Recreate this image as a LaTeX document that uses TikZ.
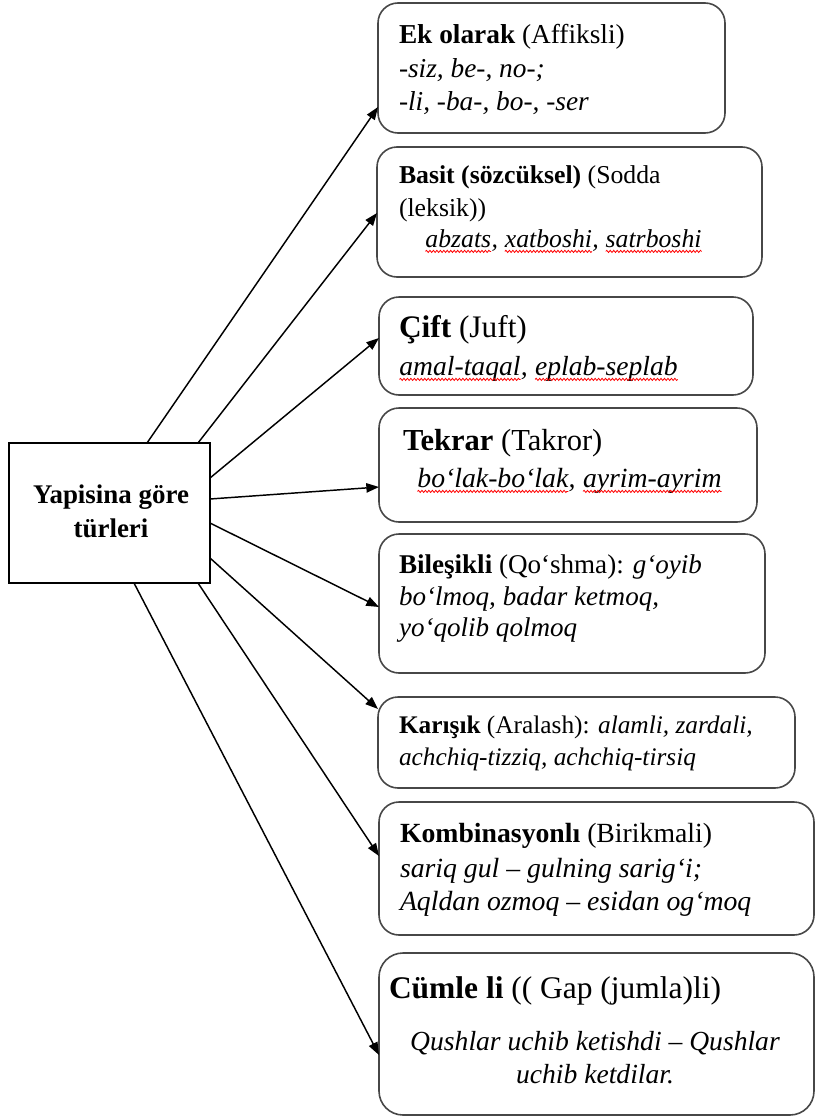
\documentclass[tikz,border=0pt]{standalone}
\usepackage{fontspec}
\setmainfont{Liberation Serif}
\usetikzlibrary{arrows.meta,decorations.pathmorphing,calc}
\newcommand\wv[1]{\tikz[baseline=(w.base)]{\node[inner sep=0pt,outer sep=0pt,anchor=base](w){#1};\draw[red,line width=0.6pt,decorate,decoration={snake,amplitude=0.8pt,segment length=2.6pt}]([yshift=-3.3pt]w.base west)--([yshift=-3.3pt]w.base east);}}
\newcommand\fs[1]{\fontsize{#1}{#1}\selectfont}
\begin{document}
\begin{tikzpicture}[x=0.75pt,y=-0.75pt,
  rbox/.style={draw=black!72,line width=1.2pt,rounded corners=15pt,inner sep=0pt,outer sep=0pt,anchor=north west},
  mainbox/.style={draw=black,line width=1.2pt,inner sep=0pt,outer sep=0pt,anchor=north west},
  txt/.style={anchor=base west,inner sep=0pt,outer sep=0pt},
  ctxt/.style={anchor=base,inner sep=0pt,outer sep=0pt},
  arr/.style={draw=black,line width=1.1pt,-{Triangle[length=9.5pt,width=7pt]}}]
\useasboundingbox (0,0) rectangle (816,1117);

% boxes
\node[mainbox,minimum width={201*0.75pt},minimum height={140*0.75pt}] (lb) at (9,443) {};
\node[rbox,minimum width={347*0.75pt},minimum height={130*0.75pt}] (b1) at (378,3) {};
\node[rbox,minimum width={385*0.75pt},minimum height={130*0.75pt}] (b2) at (377,147) {};
\node[rbox,minimum width={374*0.75pt},minimum height={98*0.75pt}] (b3) at (379,297) {};
\node[rbox,minimum width={378*0.75pt},minimum height={114*0.75pt}] (b4) at (379,408) {};
\node[rbox,minimum width={386*0.75pt},minimum height={139*0.75pt}] (b5) at (379,534) {};
\node[rbox,minimum width={417*0.75pt},minimum height={91*0.75pt}] (b6) at (378,697) {};
\node[rbox,minimum width={435*0.75pt},minimum height={133*0.75pt}] (b7) at (379,802) {};
\node[rbox,rounded corners=18pt,minimum width={435*0.75pt},minimum height={162*0.75pt}] (b8) at (379,953) {};

% left text
\node[ctxt,font=\fs{20.2}\bfseries] (l1) at (111,503) {Yapisina göre};
\node[ctxt,font=\fs{20.2}\bfseries] (l2) at (111,537) {türleri};

% box 1
\node[txt,font=\fs{20.5}] (t1a) at (399,43) {\textbf{Ek olarak} (Affiksli)};
\node[txt,font=\fs{20.5}\itshape] (t1b) at (399,77) {-siz, be-, no-;};
\node[txt,font=\fs{20.5}\itshape] (t1c) at (399,110) {-li, -ba-, bo-, -ser};

% box 2
\node[txt,font=\fs{19.3}] (t2a) at (399,183) {\textbf{Basit (sözcüksel)} (Sodda};
\node[txt,font=\fs{19.3}] (t2b) at (399,216) {(leksik))};
\node[txt,font=\fs{19.3}\itshape] (t2c) at (425,247) {\wv{abzats}, \wv{xatboshi}, \wv{satrboshi}};

% box 3
\node[txt,font=\fs{23.5}] (t3a) at (399,337) {\textbf{Çift} (Juft)};
\node[txt,font=\fs{20.7}\itshape] (t3b) at (399,375) {\wv{amal-taqal}, \wv{eplab-seplab}};

% box 4
\node[txt,font=\fs{22.9}] (t4a) at (403,450) {\textbf{Tekrar} (Takror)};
\node[txt,font=\fs{20.8}\itshape] (t4b) at (417,487) {\wv{bo‘lak-bo‘lak}, \wv{ayrim-ayrim}};

% box 5
\node[txt,font=\fs{20.3}] (t5a) at (399,573) {\textbf{Bileşikli} (Qo‘shma): \textit{g‘oyib}};
\node[txt,font=\fs{20.3}\itshape] (t5b) at (399,605) {bo‘lmoq, badar ketmoq,};
\node[txt,font=\fs{20.3}\itshape] (t5c) at (399,636) {yo‘qolib qolmoq};

% box 6
\node[txt,font=\fs{19}] (t6a) at (399,733) {\textbf{Karışık} (Aralash): \textit{alamli, zardali,}};
\node[txt,font=\fs{19}\itshape] (t6b) at (399,765) {achchiq-tizziq, achchiq-tirsiq};

% box 7
\node[txt,font=\fs{20.8}] (t7a) at (400,842) {\textbf{Kombinasyonlı} (Birikmali)};
\node[txt,font=\fs{20.8}\itshape] (t7b) at (400,877) {sariq gul – gulning sarig‘i;};
\node[txt,font=\fs{20.8}\itshape] (t7c) at (400,910) {Aqldan ozmoq – esidan og‘moq};

% box 8
\node[txt,font=\fs{23.6}] (t8a) at (389,998) {\textbf{Cümle li} (( Gap (jumla)li)};
\node[ctxt,font=\fs{20.7}\itshape] (t8b) at (595,1050) {Qushlar uchib ketishdi – Qushlar};
\node[ctxt,font=\fs{20.7}\itshape] (t8c) at (595,1083) {uchib ketdilar.};

% arrows
\draw[arr] ($(lb.north west)+(138,0)$) -- ($(b1.north west)+(0,104)$);
\draw[arr] ($(lb.north west)+(189,0)$) -- ($(b2.north west)+(0,66)$);
\draw[arr] ($(lb.north east)+(0,35)$) -- ($(b3.north west)+(0,41)$);
\draw[arr] ($(lb.north east)+(0,56)$) -- ($(b4.north west)+(0,79)$);
\draw[arr] ($(lb.north east)+(0,80)$) -- ($(b5.north west)+(0,73)$);
\draw[arr] ($(lb.north east)+(0,115)$) -- ($(b6.north west)+(0,12)$);
\draw[arr] ($(lb.south west)+(189,0)$) -- ($(b7.north west)+(0,54)$);
\draw[arr] ($(lb.south west)+(125,0)$) -- ($(b8.north west)+(0,102)$);
\end{tikzpicture}
\end{document}
